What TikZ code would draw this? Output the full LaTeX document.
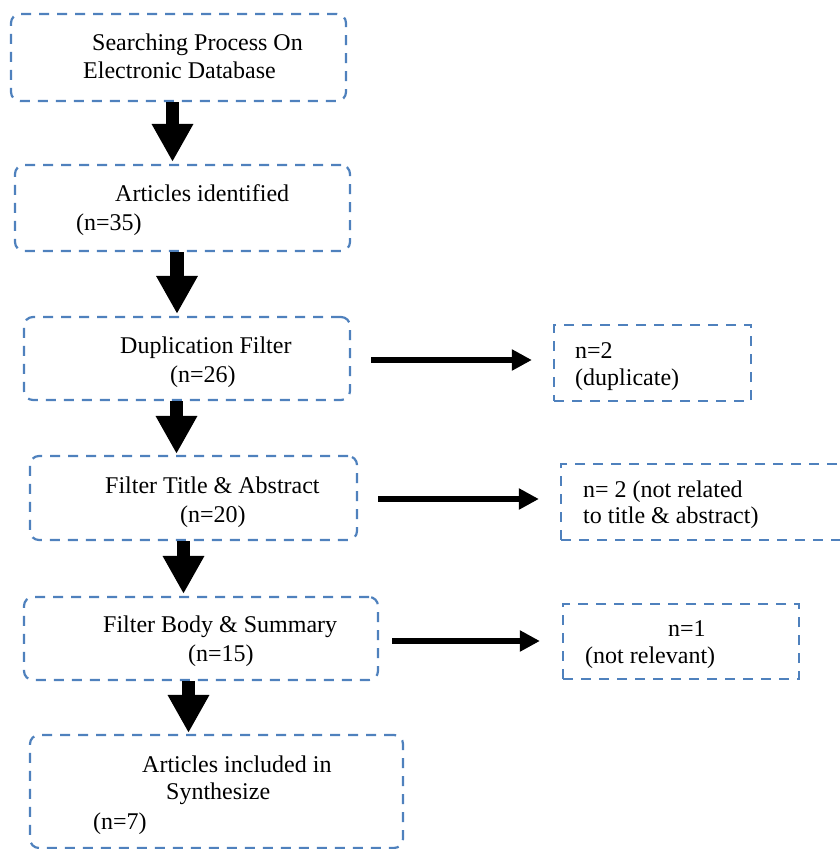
\documentclass[tikz,border=0pt]{standalone}
\usepackage{fontspec}
\setmainfont{Liberation Serif}
\usetikzlibrary{arrows.meta}
\definecolor{boxblue}{HTML}{4F81BD}
\tikzset{
  box/.style={draw=boxblue, line width=2.2pt, dash pattern=on 10pt off 8pt, inner sep=0pt, rounded corners=9pt},
  sbox/.style={draw=boxblue, line width=2.2pt, dash pattern=on 10pt off 8pt, inner sep=0pt},
  txt/.style={anchor=base west, inner sep=0pt, font=\fontsize{24}{28}\selectfont},
  downarrow/.style={line width=13.5pt, -{Triangle[length=38pt,width=39pt]}},
  harrow/.style={line width=6.5pt, -{Triangle[length=20pt,width=20pt]}}
}
\begin{document}
\begin{tikzpicture}[x=1pt,y=-1pt]
\useasboundingbox (0,0) rectangle (840,849);
\clip (0,0) rectangle (840,849);
% main boxes
\node[box, minimum width=335pt, minimum height=87pt] (b1) at (178.5,57.5) {};
\node[box, minimum width=335pt, minimum height=86pt] (b2) at (182.5,208) {};
\node[box, minimum width=326pt, minimum height=83pt] (b3) at (187,358.5) {};
\node[box, minimum width=327pt, minimum height=84pt] (b4) at (193.5,498) {};
\node[box, minimum width=354pt, minimum height=83pt] (b5) at (201,638.5) {};
\node[box, minimum width=373pt, minimum height=113pt] (b6) at (216.5,791.5) {};
% side boxes
\node[sbox, minimum width=197pt, minimum height=76pt] (r1) at (652.5,363) {};
\node[sbox, minimum width=289pt, minimum height=76pt] (r2) at (705.5,502) {};
\node[sbox, minimum width=236pt, minimum height=75pt] (r3) at (681,641.5) {};
% texts
\node[txt] (t1a) at (92,50) {Searching Process On};
\node[txt] (t1b) at (83,78) {Electronic Database};
\node[txt] (t2a) at (115,201) {Articles identified};
\node[txt] (t2b) at (76,230) {(n=35)};
\node[txt] (t3a) at (120,353) {Duplication Filter};
\node[txt] (t3b) at (170,382) {(n=26)};
\node[txt] (t4a) at (105,493) {Filter Title \& Abstract};
\node[txt] (t4b) at (180,522) {(n=20)};
\node[txt] (t5a) at (103,632) {Filter Body \& Summary};
\node[txt] (t5b) at (188,661) {(n=15)};
\node[txt] (t6a) at (142,772) {Articles included in};
\node[txt] (t6b) at (166,799) {Synthesize};
\node[txt] (t6c) at (93,829) {(n=7)};
\node[txt] (tr1a) at (575,358) {n=2};
\node[txt] (tr1b) at (575,385) {(duplicate)};
\node[txt] (tr2a) at (583,497) {n= 2 (not related};
\node[txt] (tr2b) at (583,523) {to title \& abstract)};
\node[txt] (tr3a) at (668,636) {n=1};
\node[txt] (tr3b) at (585,663) {(not relevant)};
% down arrows
\coordinate (d1) at ([xshift=-6pt]b1.south);
\coordinate (d2) at ([xshift=-5.5pt]b2.south);
\coordinate (d3) at ([xshift=-10.5pt]b3.south);
\coordinate (d4) at ([xshift=-10pt]b4.south);
\coordinate (d5) at ([xshift=-12.5pt]b5.south);
\draw[downarrow, shorten >=2pt] (d1) -- (d1 |- b2.north);
\draw[downarrow, shorten >=2pt] (d2) -- (d2 |- b3.north);
\draw[downarrow, shorten >=1pt] (d3) -- (d3 |- b4.north);
\draw[downarrow, shorten >=2pt] (d4) -- (d4 |- b5.north);
\draw[downarrow, shorten >=1pt] (d5) -- (d5 |- b6.north);
% side arrows
\coordinate (h1) at ([xshift=20pt,yshift=-1.5pt]b3.east);
\coordinate (h2) at ([xshift=20pt,yshift=-1pt]b4.east);
\coordinate (h3) at ([xshift=13pt,yshift=-2.5pt]b5.east);
\draw[harrow, shorten >=21pt] (h1) -- (h1 -| r1.west);
\draw[harrow, shorten >=21pt] (h2) -- (h2 -| r2.west);
\draw[harrow, shorten >=22pt] (h3) -- (h3 -| r3.west);
\end{tikzpicture}
\end{document}
